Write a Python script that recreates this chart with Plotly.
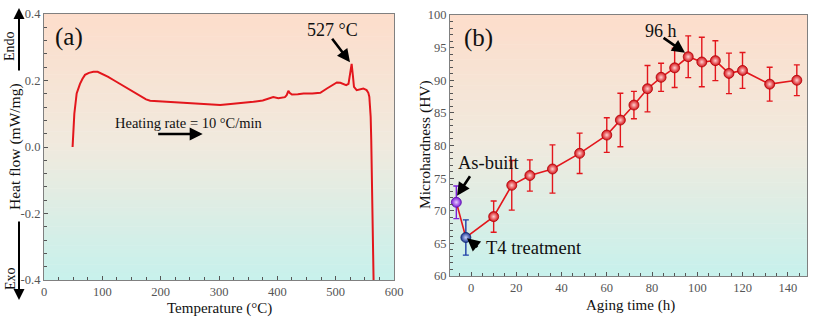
import plotly.graph_objects as go

# ---------------- data ----------------
# Panel (a): DSC curve
dsc_temp = [49, 52, 56, 61.7, 66, 70.3, 77, 84.6, 92, 99, 110, 119, 130, 142, 155, 165, 175, 182, 200,
            222, 245, 262, 285, 302, 320, 340, 359, 375, 387.5, 393, 401.7, 408, 413, 416, 418.9, 421,
            425, 435, 445, 460, 473.7, 485, 495, 502, 508, 513.7, 518, 522, 524.5, 527.4, 529.5, 531.4,
            536, 542, 547.4, 553, 556, 557.7, 559, 560, 561, 561.7, 563, 564, 565]
dsc_flow = [0.0, 0.10, 0.161, 0.19, 0.205, 0.217, 0.223, 0.226, 0.226, 0.221, 0.211, 0.2015, 0.19, 0.176,
            0.162, 0.151, 0.143, 0.139, 0.137, 0.136, 0.134, 0.131, 0.128, 0.126, 0.129, 0.132, 0.136,
            0.140, 0.148, 0.150, 0.147, 0.149, 0.150, 0.156, 0.169, 0.163, 0.158, 0.159, 0.161, 0.161,
            0.163, 0.176, 0.186, 0.194, 0.193, 0.188, 0.186, 0.190, 0.215, 0.250, 0.215, 0.181,
            0.171, 0.173, 0.176, 0.171, 0.163, 0.151, 0.125, 0.091, 0.02, -0.039, -0.15, -0.28, -0.40]

# Panel (b): microhardness vs aging time
asbuilt_t, asbuilt_hv, asbuilt_err = [-6.5], [71.3], [2.5]
t4_t, t4_hv, t4_err = [-2.3], [65.9], [2.7]
aging_t = [10, 18, 26, 36, 48, 60, 66, 72, 78, 84, 90, 96, 102, 108, 114, 120, 132, 144]
aging_hv = [69.1, 73.9, 75.4, 76.4, 78.8, 81.6, 83.9, 86.2, 88.7, 90.45, 91.9, 93.6, 92.8, 93.0,
            91.05, 91.5, 89.4, 90.0]
aging_err = [2.4, 3.8, 2.4, 3.7, 3.1, 2.65, 4.1, 2.1, 3.55, 2.15, 3.0, 3.2, 3.8, 3.05, 3.1, 2.75,
             2.6, 2.35]

a_yticks = [0.4, 0.2, 0.0, -0.2, -0.4]
a_yticktext = ["0.4", "0.2", "0.0", "-0.2", "-0.4"]

# ---------------- figure ----------------
W, H = 813, 324
FONT = "Liberation Serif"
RED = "#e3161c"

def px(x):
    return x / W

def py(y):
    return 1 - y / H

fig = go.Figure()

fig.add_trace(go.Scatter(x=dsc_temp, y=dsc_flow, mode="lines",
                         line=dict(color=RED, width=2.0), xaxis="x", yaxis="y",
                         showlegend=False))

all_t = asbuilt_t + t4_t + aging_t
all_hv = asbuilt_hv + t4_hv + aging_hv
fig.add_trace(go.Scatter(x=all_t, y=all_hv, mode="lines", line=dict(color=RED, width=1.6),
                         xaxis="x2", yaxis="y2", showlegend=False))
fig.add_trace(go.Scatter(x=aging_t, y=aging_hv, mode="markers",
                         error_y=dict(type="data", array=aging_err, color=RED, thickness=1.4, width=3),
                         marker=dict(size=10, color="#d40f14", line=dict(color="#b00008", width=0.8),
                                     gradient=dict(type="radial", color="#ffd0d0")),
                         xaxis="x2", yaxis="y2", showlegend=False))
fig.add_trace(go.Scatter(x=asbuilt_t, y=asbuilt_hv, mode="markers",
                         error_y=dict(type="data", array=asbuilt_err, color="#7a1fd6", thickness=1.4, width=3),
                         marker=dict(size=10, color="#7a18d8", line=dict(color="#5a0fa8", width=0.8),
                                     gradient=dict(type="radial", color="#e6ccff")),
                         xaxis="x2", yaxis="y2", showlegend=False))
fig.add_trace(go.Scatter(x=t4_t, y=t4_hv, mode="markers",
                         error_y=dict(type="data", array=t4_err, color="#1f3fa8", thickness=1.4, width=3),
                         marker=dict(size=10, color="#1b3590", line=dict(color="#0e2268", width=0.8),
                                     gradient=dict(type="radial", color="#c8d4ff")),
                         xaxis="x2", yaxis="y2", showlegend=False))

# gradient background strips
def grad_color(t):
    stops = [(0.0, (199, 241, 236)), (0.5, (240, 234, 222)), (1.0, (253, 221, 203))]
    for (t0, c0), (t1, c1) in zip(stops[:-1], stops[1:]):
        if t0 <= t <= t1:
            f = (t - t0) / (t1 - t0)
            c = [round(c0[i] + f * (c1[i] - c0[i])) for i in range(3)]
            return "rgb(%d,%d,%d)" % tuple(c)
    return "rgb(253,221,203)"

shapes = []
N = 70
for xr, yr in (("x domain", "y domain"), ("x2 domain", "y2 domain")):
    for i in range(N):
        shapes.append(dict(type="rect", xref=xr, yref=yr, x0=0, x1=1, y0=i / N, y1=(i + 1) / N + 0.002,
                           fillcolor=grad_color((i + 0.5) / N), line=dict(width=0), layer="below"))
fig.update_layout(shapes=shapes)

tickfont = dict(family=FONT, size=12.5, color="#555555")
axis_common = dict(showline=True, mirror=True, linecolor="#808080", linewidth=1.2, ticks="inside",
                   ticklen=4, tickcolor="#555555", showgrid=False, zeroline=False, tickfont=tickfont,
                   automargin=False)

fig.update_layout(
    width=W, height=H, margin=dict(l=0, r=0, t=0, b=0, autoexpand=False),
    paper_bgcolor="white", plot_bgcolor="rgba(0,0,0,0)",
    xaxis=dict(domain=[px(44), px(394)], range=[0, 600], dtick=100, tick0=0, anchor="y",
               minor=dict(dtick=25, ticks="inside", ticklen=2.5, tickcolor="#555555"), **axis_common),
    yaxis=dict(domain=[py(280), py(14)], range=[-0.4, 0.4], tickvals=a_yticks, ticktext=a_yticktext,
               anchor="x", minor=dict(dtick=0.04, ticks="inside", ticklen=2.5, tickcolor="#555555"),
               **axis_common),
    xaxis2=dict(domain=[px(450), px(807)], range=[-9.3, 148.5], dtick=20, tick0=0, anchor="y2",
                minor=dict(dtick=5, ticks="inside", ticklen=2.5, tickcolor="#555555"), **axis_common),
    yaxis2=dict(domain=[py(276), py(15)], range=[60, 100], dtick=5, anchor="x2",
                minor=dict(dtick=1, ticks="inside", ticklen=2.5, tickcolor="#555555"), **axis_common),
)

ann = []
def txt(x, y, s, size, ref="paper", angle=0, color="#111111", xref=None, yref=None):
    ann.append(dict(x=x, y=y, xref=xref or ref, yref=yref or ref, text=s, showarrow=False,
                    font=dict(family=FONT, size=size, color=color), textangle=angle,
                    xanchor="center", yanchor="middle", borderpad=0))

# Panel (a) texts
txt(px(69), py(37), "(a)", 25)
txt(px(332), py(30), "527 °C", 18)
txt(px(189), py(123), "Heating rate = 10 °C/min", 14.5)
txt(px(219), py(308), "Temperature (°C)", 15)
txt(px(15), py(147), "Heat flow (mW/mg)", 15.5, angle=-90)
txt(px(10), py(46), "Endo", 14, angle=-90)
txt(px(10), py(279), "Exo", 14, angle=-90)

# Panel (b) texts
txt(px(478), py(38), "(b)", 25)
txt(px(661), py(31), "96 h", 18)
txt(px(489), py(163), "As-built", 18.5)
txt(px(534), py(248), "T4 treatment", 18.5)
txt(px(630), py(305), "Aging time (h)", 15)
txt(px(425), py(145), "Microhardness (HV)", 15.5, angle=-90)

def arrow(x, y, ax, ay, xref, yref, width=2.6, size=1.0):
    ann.append(dict(x=x, y=y, xref=xref, yref=yref, ax=ax, ay=ay, axref="pixel", ayref="pixel",
                    text="", showarrow=True, arrowhead=2, arrowsize=size, arrowwidth=width,
                    arrowcolor="#000000"))

# Endo / Exo arrows (paper)
arrow(px(19), py(8), 0, 64, "paper", "paper", width=2.0, size=1.1)
arrow(px(19), py(300), 0, -80, "paper", "paper", width=2.0, size=1.1)
# 527 arrow
arrow(524.6, 0.255, -19, -25, "x", "y")
# heating rate arrow
arrow(272, 0.039, -46, 0, "x", "y")
# 96 h arrow
arrow(94.6, 94.2, -23, -16, "x2", "y2")
# As-built arrow
arrow(-6.2, 72.3, 14, -21, "x2", "y2")
# T4 arrow
arrow(-1.8, 65.8, 12, 10, "x2", "y2")

fig.update_layout(annotations=ann)

fig.write_html("out.html")
